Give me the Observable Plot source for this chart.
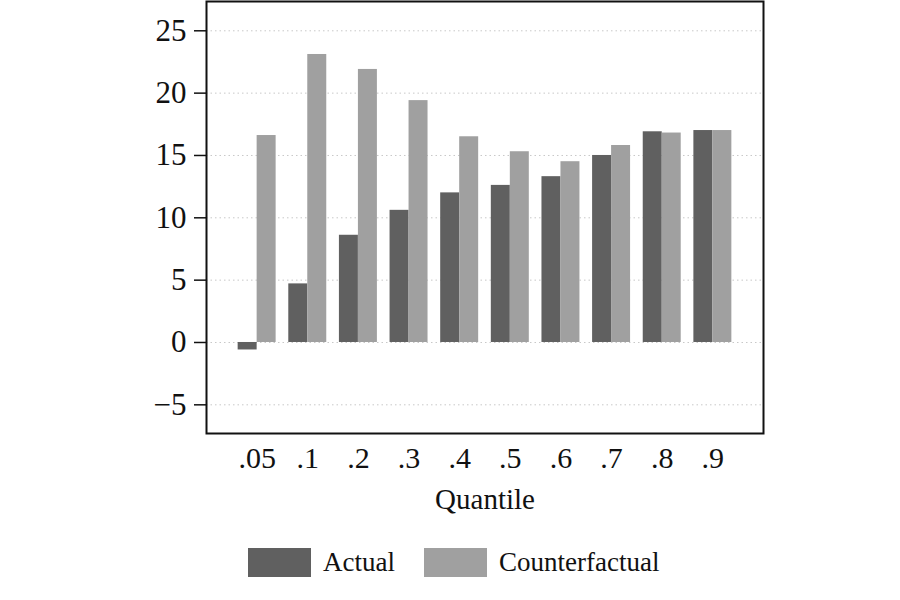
<!DOCTYPE html>
<html>
<head>
<meta charset="utf-8">
<script src="https://cdn.jsdelivr.net/npm/d3@7"></script>
<script src="https://cdn.jsdelivr.net/npm/@observablehq/plot@0.6"></script>
<style>
  body { margin: 0; background: #fff; font-family: "Liberation Serif", "Times New Roman", serif; }
  #chart svg, #chart svg text { font-family: "Liberation Serif", "Times New Roman", serif !important; }
  #legend { display: flex; align-items: center; height: 29px; margin-top: 20px; padding-left: 248px; font-size: 27px; color: #111; }
  .sw { width: 63px; height: 29px; display: inline-block; }
</style>
</head>
<body>
<div id="chart"></div>
<div id="legend"></div>
<script>
const quantiles = [".05", ".1", ".2", ".3", ".4", ".5", ".6", ".7", ".8", ".9"];
const actual = [-0.6, 4.7, 8.6, 10.6, 12.0, 12.6, 13.3, 15.0, 16.9, 17.0];
const counterfactual = [16.6, 23.1, 21.9, 19.4, 16.5, 15.3, 14.5, 15.8, 16.8, 17.0];
const series = ["Actual", "Counterfactual"];
const colors = ["#606060", "#a0a0a0"];
const yTicks = [-5, 0, 5, 10, 15, 20, 25];

const dataA = quantiles.map((q, i) => ({q, v: actual[i]}));
const dataC = quantiles.map((q, i) => ({q, v: counterfactual[i]}));

const W = 900, H = 528;
const mL = 206, mR = 137, mT = 1, mB = 95;
const n = quantiles.length;
const step = (W - mL - mR) / (n - 0.25 + 2 * 0.625);
const half = step * 0.75 / 2;

const chart = Plot.plot({
  width: W, height: H,
  marginLeft: mL, marginRight: mR, marginTop: mT, marginBottom: mB,
  style: {fontFamily: "Liberation Serif", fontSize: "30px", color: "#111", background: "#fff"},
  x: {domain: quantiles, paddingInner: 0.25, paddingOuter: 0.625, round: false},
  y: {domain: [-7.3, 27.35]},
  marks: [
    Plot.gridY(yTicks, {stroke: "#c8c8c8", strokeOpacity: 1, strokeDasharray: "1.5,3"}),
    Plot.barY(dataA, {x: "q", y: "v", fill: colors[0], insetRight: half}),
    Plot.barY(dataC, {x: "q", y: "v", fill: colors[1], insetLeft: half}),
    Plot.axisY(yTicks, {tickSize: 12, tickPadding: 8, label: null, stroke: "#111", strokeWidth: 1.5,
      fontSize: 31, fontFamily: "Liberation Serif"}),
    Plot.axisX({tickSize: 0, tickPadding: 13, label: null, fontSize: 30, fontFamily: "Liberation Serif"}),
    Plot.text(["Quantile"], {text: d => d, frameAnchor: "bottom", dy: 75, fontSize: 29,
      fontFamily: "Liberation Serif", fill: "#111", lineAnchor: "bottom"}),
    Plot.frame({stroke: "#111", strokeWidth: 2})
  ]
});
document.getElementById("chart").appendChild(chart);

const legend = document.getElementById("legend");
series.forEach((s, i) => {
  const sw = document.createElement("span");
  sw.className = "sw";
  sw.style.background = colors[i];
  legend.appendChild(sw);
  const t = document.createElement("span");
  t.textContent = s;
  t.style.marginLeft = "12px";
  t.style.marginRight = i === 0 ? "29px" : "0";
  legend.appendChild(t);
});
</script>
</body>
</html>
